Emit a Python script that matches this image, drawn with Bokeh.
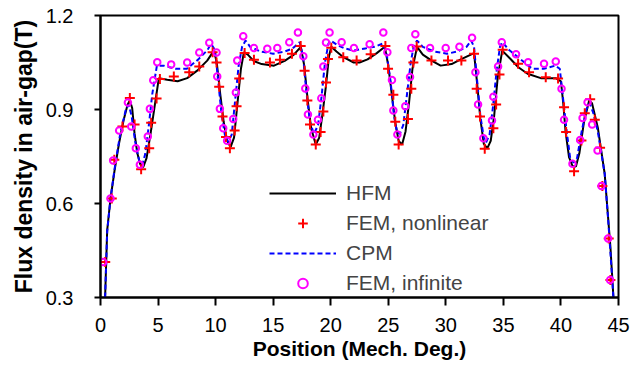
from bokeh.plotting import figure
from bokeh.models import Legend, LegendItem, Range1d, FixedTicker, NumeralTickFormatter
from bokeh.embed import file_html
from bokeh.resources import INLINE

# HFM (black solid)
hfm_x = [0.4, 0.58, 0.87, 1.22, 1.6, 2.0, 2.35, 2.55, 2.75, 2.96, 3.2, 3.45, 3.71, 4.0, 4.35, 4.78, 5.07,
         5.8, 6.7, 7.53, 8.4, 9.27, 9.85, 10.1, 10.4, 10.7, 11.0, 11.3, 11.6, 11.9, 12.2, 12.46,
         12.8, 13.3, 14.0, 15.07, 16.0, 16.8, 17.4, 17.7, 18.0, 18.3, 18.7, 19.0, 19.3, 19.6, 19.85,
         20.05, 20.5, 21.1, 22.0, 22.5, 23.2, 24.0, 24.7, 25.0, 25.3, 25.6, 25.9, 26.2, 26.5, 26.8,
         27.1, 27.5, 28.0, 28.8, 29.55, 30.5, 31.3, 32.45, 32.7, 33.0, 33.3, 33.6, 33.9, 34.2, 34.5,
         34.9, 35.6, 36.3, 37.1, 38.25, 39.55, 40.0, 40.2, 40.4, 40.7, 41.0, 41.3, 41.6, 42.0, 42.45,
         42.7, 43.2, 43.8, 44.0, 44.3, 44.56]
hfm_y = [0.30, 0.514, 0.616, 0.705, 0.79, 0.865, 0.915, 0.929, 0.905, 0.823, 0.76, 0.725, 0.716, 0.745, 0.823, 0.929, 1.0,
         0.995, 0.99, 1.0, 1.024, 1.056, 1.088, 1.05, 0.95, 0.86, 0.80, 0.78, 0.81, 0.92, 1.03, 1.083,
         1.075, 1.055, 1.045, 1.04, 1.055, 1.075, 1.10, 1.04, 0.93, 0.84, 0.788, 0.81, 0.89, 0.98, 1.07,
         1.10, 1.085, 1.067, 1.05, 1.05, 1.06, 1.08, 1.10, 1.04, 0.95, 0.86, 0.80, 0.788, 0.83, 0.92,
         1.03, 1.10, 1.075, 1.055, 1.04, 1.045, 1.06, 1.08, 0.99, 0.87, 0.79, 0.776, 0.80, 0.88, 1.0,
         1.088, 1.062, 1.035, 1.014, 1.0, 1.0, 0.99, 0.92, 0.83, 0.748, 0.72, 0.718, 0.76, 0.86, 0.929,
         0.92, 0.843, 0.695, 0.60, 0.46, 0.30]

# CPM (blue dashed)
cpm_x = [0.4, 0.58, 0.87, 1.22, 1.7, 2.2, 2.45, 2.7, 3.0, 3.4, 3.65, 3.9, 4.2, 4.5, 4.9, 5.5, 6.5,
         7.5, 8.5, 9.3, 9.6, 9.95, 10.2, 10.5, 10.8, 11.1, 11.4, 11.7, 12.0, 12.3, 12.6, 13.0, 13.9,
         15.0, 16.0, 16.7, 17.3, 17.6, 17.9, 18.2, 18.54, 18.9, 19.2, 19.5, 19.8, 20.0, 20.6, 21.2,
         22.0, 23.0, 23.8, 24.5, 24.85, 25.2, 25.5, 25.75, 26.0, 26.3, 26.6, 26.95, 27.2, 27.5, 28.0,
         29.0, 30.1, 31.0, 31.8, 32.2, 32.45, 32.7, 33.0, 33.3, 33.5, 33.8, 34.1, 34.4, 34.7, 34.9,
         35.5, 36.5, 37.5, 38.5, 39.5, 39.9, 40.2, 40.5, 40.8, 41.1, 41.4, 41.8, 42.2, 42.5, 42.8,
         43.2, 43.8, 44.1, 44.56]
cpm_y = [0.30, 0.51, 0.616, 0.71, 0.82, 0.90, 0.915, 0.88, 0.80, 0.73, 0.725, 0.76, 0.85, 0.95, 1.04, 1.04, 1.03,
         1.03, 1.06, 1.09, 1.11, 1.09, 1.0, 0.89, 0.82, 0.796, 0.82, 0.93, 1.04, 1.10, 1.12, 1.10, 1.085,
         1.078, 1.085, 1.095, 1.115, 1.07, 0.95, 0.86, 0.822, 0.85, 0.94, 1.05, 1.11, 1.12, 1.105, 1.095,
         1.088, 1.095, 1.10, 1.11, 1.08, 0.99, 0.88, 0.83, 0.822, 0.85, 0.94, 1.05, 1.10, 1.12, 1.10,
         1.085, 1.078, 1.085, 1.10, 1.12, 1.10, 1.0, 0.88, 0.81, 0.795, 0.82, 0.91, 1.02, 1.10, 1.115,
         1.09, 1.06, 1.03, 1.03, 1.04, 1.03, 0.93, 0.83, 0.745, 0.73, 0.745, 0.83, 0.90, 0.92, 0.89,
         0.83, 0.695, 0.55, 0.30]

# FEM, nonlinear (red crosses)
fnl_x = [0.41, 0.98, 1.2, 1.91, 2.55, 2.96, 3.53, 4.23, 4.4, 4.87, 5.16, 6.37, 7.71, 8.58, 9.74, 10.08,
         10.31, 10.6, 10.9, 11.24, 11.65, 11.82, 12.05, 12.52, 13.33, 14.72, 15.59, 16.63, 17.39, 17.73,
         17.97, 18.2, 18.7, 19.12, 19.36, 19.59, 19.76, 20.05, 21.09, 22.25, 23.47, 24.75, 24.98, 25.44,
         25.61, 25.9, 26.71, 27.0, 27.18, 27.47, 28.75, 30.19, 31.35, 32.45, 32.68, 32.97, 33.38, 34.13,
         34.37, 34.66, 34.94, 36.28, 37.23, 38.68, 39.75, 40.27, 40.45, 41.14, 41.78, 42.07, 42.54, 42.94,
         43.4, 43.6, 44.15, 44.3]
fnl_y = [0.413, 0.616, 0.74, 0.846, 0.937, 0.852, 0.709, 0.776, 0.858, 0.935, 0.997, 1.005, 1.019, 1.037, 1.083, 1.05,
         0.973, 0.878, 0.812, 0.776, 0.833, 0.91, 0.999, 1.08, 1.059, 1.05, 1.059, 1.078, 1.103, 1.024,
         0.929, 0.852, 0.788, 0.828, 0.894, 0.986, 1.061, 1.097, 1.067, 1.056, 1.076, 1.103, 1.03, 0.947,
         0.861, 0.788, 0.87, 0.966, 1.05, 1.101, 1.056, 1.056, 1.056, 1.078, 0.966, 0.878, 0.775, 0.84,
         0.916, 1.012, 1.091, 1.046, 1.019, 1.003, 0.999, 0.907, 0.828, 0.703, 0.801, 0.888, 0.933, 0.867,
         0.778, 0.656, 0.488, 0.356]

# FEM, infinite (magenta circles)
finf_x = [0.23, 0.87, 1.1, 1.62, 2.38, 2.67, 3.07, 3.42, 4.11, 4.29, 4.58, 4.93, 6.14, 7.53, 8.58, 9.45,
          10.08, 10.14, 10.37, 10.66, 11.0, 11.53, 11.76, 11.88, 12.4, 13.33, 14.49, 15.36, 16.4, 17.15,
          17.62, 17.79, 18.02, 18.49, 18.89, 19.18, 19.36, 19.59, 19.9, 20.95, 22.02, 23.38, 24.57, 24.92,
          25.32, 25.44, 25.79, 26.48, 26.89, 27.0, 27.35, 28.63, 29.99, 31.18, 32.28, 32.57, 32.8, 33.26,
          34.01, 34.13, 34.54, 34.86, 36.1, 37.15, 38.53, 39.55, 40.05, 40.27, 41.0, 41.67, 41.88, 42.31,
          42.71, 43.18, 43.52, 44.1, 44.27]
finf_y = [0.413, 0.616, 0.737, 0.833, 0.922, 0.846, 0.776, 0.724, 0.814, 0.902, 0.993, 1.051, 1.044, 1.05, 1.082, 1.113,
          1.082, 1.005, 0.902, 0.84, 0.80, 0.87, 0.954, 1.056, 1.134, 1.096, 1.094, 1.096, 1.115, 1.146,
          1.07, 0.967, 0.884, 0.82, 0.867, 0.936, 1.037, 1.114, 1.146, 1.115, 1.096, 1.108, 1.146, 1.083,
          0.994, 0.897, 0.82, 0.91, 1.004, 1.096, 1.14, 1.096, 1.096, 1.10, 1.129, 1.019, 0.916, 0.808,
          0.865, 0.941, 1.037, 1.115, 1.076, 1.051, 1.046, 1.053, 0.966, 0.867, 0.727, 0.803, 0.873, 0.923,
          0.852, 0.769, 0.656, 0.488, 0.356]

x_ticks = [0, 5, 10, 15, 20, 25, 30, 35, 40, 45]
y_ticks = [0.3, 0.6, 0.9, 1.2]
series_names = ["HFM", "FEM, nonlinear", "CPM", "FEM, infinite"]
x_title = "Position (Mech. Deg.)"
y_title = "Flux density in air-gap(T)"

FONT = "Liberation Sans"

p = figure(width=641, height=367, output_backend="svg", toolbar_location=None,
           x_range=Range1d(0, 45), y_range=Range1d(0.3, 1.2),
           min_border_left=100, min_border_right=23, min_border_top=15, min_border_bottom=70)
p.grid.visible = False
p.outline_line_color = "black"
p.outline_line_width = 2
p.background_fill_color = "white"
p.border_fill_color = "white"

r_hfm = p.line(hfm_x, hfm_y, line_color="black", line_width=2)
r_cpm = p.line(cpm_x, cpm_y, line_color="#0000FF", line_width=2, line_dash="5 3")
r_fnl = p.scatter(fnl_x, fnl_y, marker="cross", size=10, line_color="#FF0000", line_width=2)
r_finf = p.scatter(finf_x, finf_y, marker="circle", size=6.5, line_color="#FF00FF",
                   fill_color=None, line_width=2)

for ax in (p.xaxis[0], p.yaxis[0]):
    ax.axis_line_width = 2
    ax.major_tick_line_width = 2
    ax.major_tick_in = 0
    ax.minor_tick_line_color = None
    ax.major_label_text_font = FONT
    ax.major_label_text_font_size = "20px"
    ax.major_label_text_color = "black"
    ax.axis_label_text_font = FONT
    ax.axis_label_text_font_style = "bold"
    ax.axis_label_text_color = "black"
    ax.axis_label_standoff = 0

p.xaxis.ticker = FixedTicker(ticks=x_ticks)
p.xaxis.formatter = NumeralTickFormatter(format="0")
p.xaxis.major_tick_out = 8
p.xaxis.major_label_standoff = 12
p.xaxis.axis_label = x_title
p.xaxis.axis_label_text_font_size = "21px"
p.xaxis.axis_label_standoff = 2

p.yaxis.ticker = FixedTicker(ticks=y_ticks)
p.yaxis.formatter = NumeralTickFormatter(format="0.0")
p.yaxis.major_tick_out = 6
p.yaxis.major_label_standoff = 21
p.yaxis.axis_label = y_title
p.yaxis.axis_label_text_font_size = "23px"
p.yaxis.axis_label_standoff = 6

legend = Legend(items=[
    LegendItem(label=series_names[0], renderers=[r_hfm]),
    LegendItem(label=series_names[1], renderers=[r_fnl]),
    LegendItem(label=series_names[2], renderers=[r_cpm]),
    LegendItem(label=series_names[3], renderers=[r_finf]),
], location=(169, 2), glyph_width=67, glyph_height=24, label_height=24, spacing=6,
    padding=0, margin=0, label_standoff=10, label_text_font=FONT, label_text_font_size="21px",
    border_line_alpha=0, background_fill_alpha=0)
p.add_layout(legend)

open("out.html", "w").write(file_html(p, INLINE))
